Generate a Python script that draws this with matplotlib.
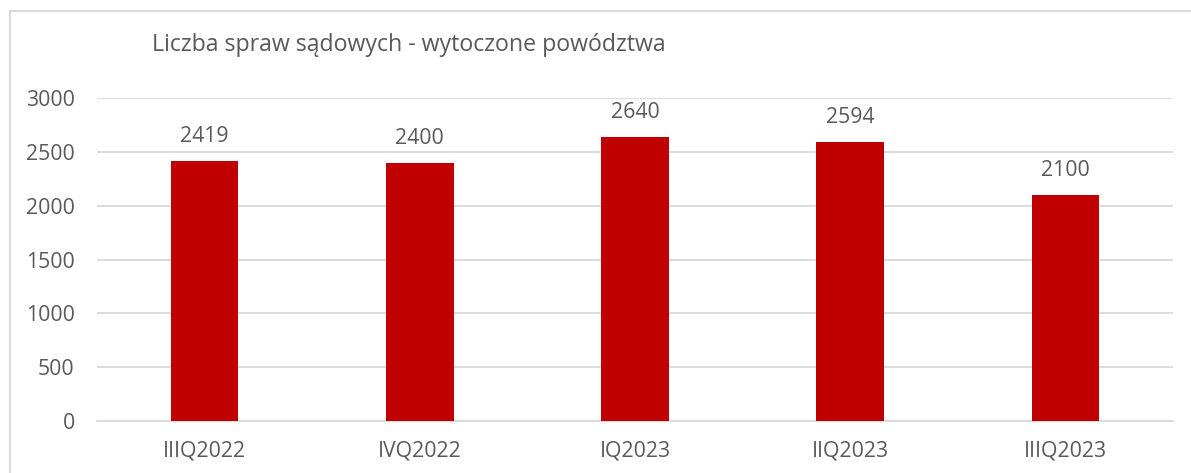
import matplotlib.pyplot as plt
from matplotlib.patches import Rectangle

quarters = ["IIIQ2022", "IVQ2022", "IQ2023", "IIQ2023", "IIIQ2023"]
cases = [2419, 2400, 2640, 2594, 2100]
y_ticks = [0, 500, 1000, 1500, 2000, 2500, 3000]

text_color = "#595959"
grid_color = "#D9D9D9"
bar_color = "#C00000"

plt.rcParams["font.family"] = ["Open Sans", "DejaVu Sans"]

fig = plt.figure(figsize=(11.91, 4.73), dpi=100)
plot = fig.add_axes([97 / 1191, 1 - 421 / 473, 1076 / 1191, 323 / 473])

x = list(range(len(quarters)))
bars = plot.bar(x, cases, width=0.315, color=bar_color, zorder=3)

for rect, value in zip(bars, cases):
    plot.annotate(str(value), (rect.get_x() + rect.get_width() / 2, value),
                  xytext=(0, 10), textcoords="offset points",
                  ha="center", va="bottom", fontsize=15.3, color=text_color)

plot.set_xlim(-0.5, len(quarters) - 0.5)
plot.set_ylim(0, 3000)
plot.set_yticks(y_ticks)
plot.set_xticks(x)
plot.set_xticklabels(quarters)
plot.yaxis.grid(True, color=grid_color, linewidth=1.3, zorder=0)
plot.tick_params(axis="both", length=0, labelsize=15.3, labelcolor=text_color)
plot.tick_params(axis="y", pad=16)
plot.tick_params(axis="x", pad=14)
for side in ["top", "right", "left"]:
    plot.spines[side].set_visible(False)
plot.spines["bottom"].set_color(grid_color)
plot.spines["bottom"].set_linewidth(1.3)

fig.text(152 / 1191, 1 - 45 / 473, "Liczba spraw sądowych - wytoczone powództwa",
         ha="left", va="center", fontsize=16.7, color=text_color)

fig.patches.append(Rectangle((10 / 1191, -0.1), 1.2, 1 - 11 / 473 + 0.1,
                             transform=fig.transFigure, fill=False,
                             edgecolor=grid_color, linewidth=1.5))

fig.savefig("out.png", dpi=100)
